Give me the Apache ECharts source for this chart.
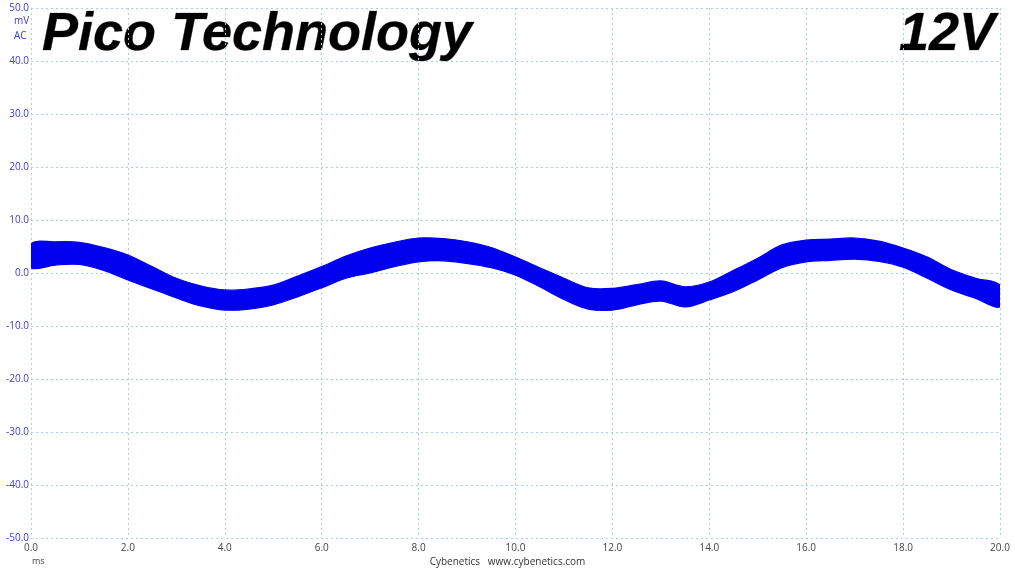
<!DOCTYPE html>
<html>
<head>
<meta charset="utf-8">
<script src="https://cdn.jsdelivr.net/npm/echarts@6/dist/echarts.min.js"></script>
<style>
html,body{margin:0;padding:0;background:#fff;}
#chart{width:1015px;height:571px;}
</style>
</head>
<body>
<div id="chart"></div>
<script>
// time (ms)
var timeMs = [0,0.5,1,1.5,2,2.5,3,3.5,4,4.5,5,5.5,6,6.5,7,7.5,8,8.5,9,9.5,10,10.5,11,11.5,12,12.5,13,13.5,14,14.5,15,15.5,16,16.5,17,17.5,18,18.5,19,19.5,20];
// upper envelope of the noisy trace (mV)
var upperMv = [5.5,5.9,5.8,4.8,3.4,1.2,-1.0,-2.4,-3.2,-3.0,-2.3,-0.6,1.2,3.2,4.7,5.8,6.6,6.5,5.9,4.8,3.0,1.0,-1.0,-2.8,-2.9,-2.2,-1.5,-2.6,-1.7,0.5,2.8,5.3,6.2,6.4,6.6,6.0,4.7,3.0,0.6,-1.0,-2.3];
// lower envelope of the noisy trace (mV)
var lowerMv = [1.0,1.5,1.6,0.5,-1.3,-3.0,-4.7,-6.2,-7.0,-6.8,-6.0,-4.5,-2.8,-1.0,0.0,1.2,2.1,2.3,1.8,1.0,-0.4,-2.6,-5.0,-6.8,-7.0,-6.0,-5.3,-6.4,-5.1,-3.5,-1.3,1.0,2.1,2.4,2.6,2.2,1.1,-1.0,-3.2,-4.8,-6.4];

var bandData = timeMs.map(function(t,i){return [t, upperMv[i], lowerMv[i]];});

var chart = echarts.init(document.getElementById('chart'), null, {renderer:'canvas'});
var gridColor = '#a9cfe0';
var traceColor = '#0000ee';
function titleFill(){
  return new echarts.graphic.LinearGradient(0,0,0,1,[
    {offset:0,color:'#b0b0b0'},{offset:0.35,color:'#2a2a2a'},{offset:0.7,color:'#111'},{offset:1,color:'#777'}]);
}
var option = {
  animation:false,
  backgroundColor:'#ffffff',
  grid:{left:31,right:15,top:8,bottom:33,containLabel:false},
  xAxis:{
    type:'value',min:0,max:20,interval:2,
    axisLine:{show:false},axisTick:{show:false},
    axisLabel:{color:'#444',fontSize:10,fontFamily:'Open Sans',margin:5,
      formatter:function(v){return v.toFixed(1);}},
    splitLine:{show:true,lineStyle:{color:gridColor,type:[2,3],width:1}}
  },
  yAxis:{
    type:'value',min:-50,max:50,interval:10,
    axisLine:{show:false},axisTick:{show:false},
    axisLabel:{color:'#3a3ad0',fontSize:10,fontFamily:'Open Sans',margin:2,
      formatter:function(v){return v.toFixed(1);}},
    splitLine:{show:true,lineStyle:{color:gridColor,type:[2,3],width:1}}
  },
  series:[
    {type:'custom',data:[0],silent:true,clip:true,
      renderItem:function(params, api){
        var pts = [];
        for (var i=0;i<bandData.length;i++) pts.push(api.coord([bandData[i][0], bandData[i][1]]));
        for (var j=bandData.length-1;j>=0;j--) pts.push(api.coord([bandData[j][0], bandData[j][2]]));
        return {type:'polygon',shape:{points:pts,smooth:0.35},
          style:{fill:traceColor,stroke:traceColor,lineWidth:1.2}};
      }}
  ],
  graphic:[
    {type:'text',left:14,top:16,style:{text:'mV',fill:'#3a3ad0',font:'10px "Open Sans"'}},
    {type:'text',left:14,top:31,style:{text:'AC',fill:'#3a3ad0',font:'10px "Open Sans"'}},
    {type:'text',left:32,top:557,style:{text:'ms',fill:'#444',font:'9px "Open Sans"'}},
    {type:'text',left:'center',top:557,style:{text:'Cybenetics   www.cybenetics.com',fill:'#333',font:'10px "Open Sans"'}},
    {type:'text',x:42,y:35,style:{text:'Pico Technology',
      font:'italic bold 54px "Liberation Sans"',verticalAlign:'middle',align:'left',
      fill:titleFill(),stroke:'rgba(40,40,40,0.6)',lineWidth:0.6,
      shadowColor:'rgba(0,0,0,0.45)',shadowOffsetX:3,shadowOffsetY:3,shadowBlur:2}},
    {type:'text',x:995,y:35,style:{text:'12V',
      font:'italic bold 54px "Liberation Sans"',verticalAlign:'middle',align:'right',
      fill:titleFill(),stroke:'rgba(40,40,40,0.6)',lineWidth:0.6,
      shadowColor:'rgba(0,0,0,0.45)',shadowOffsetX:3,shadowOffsetY:3,shadowBlur:2}}
  ]
};
chart.setOption(option);
</script>
</body>
</html>
